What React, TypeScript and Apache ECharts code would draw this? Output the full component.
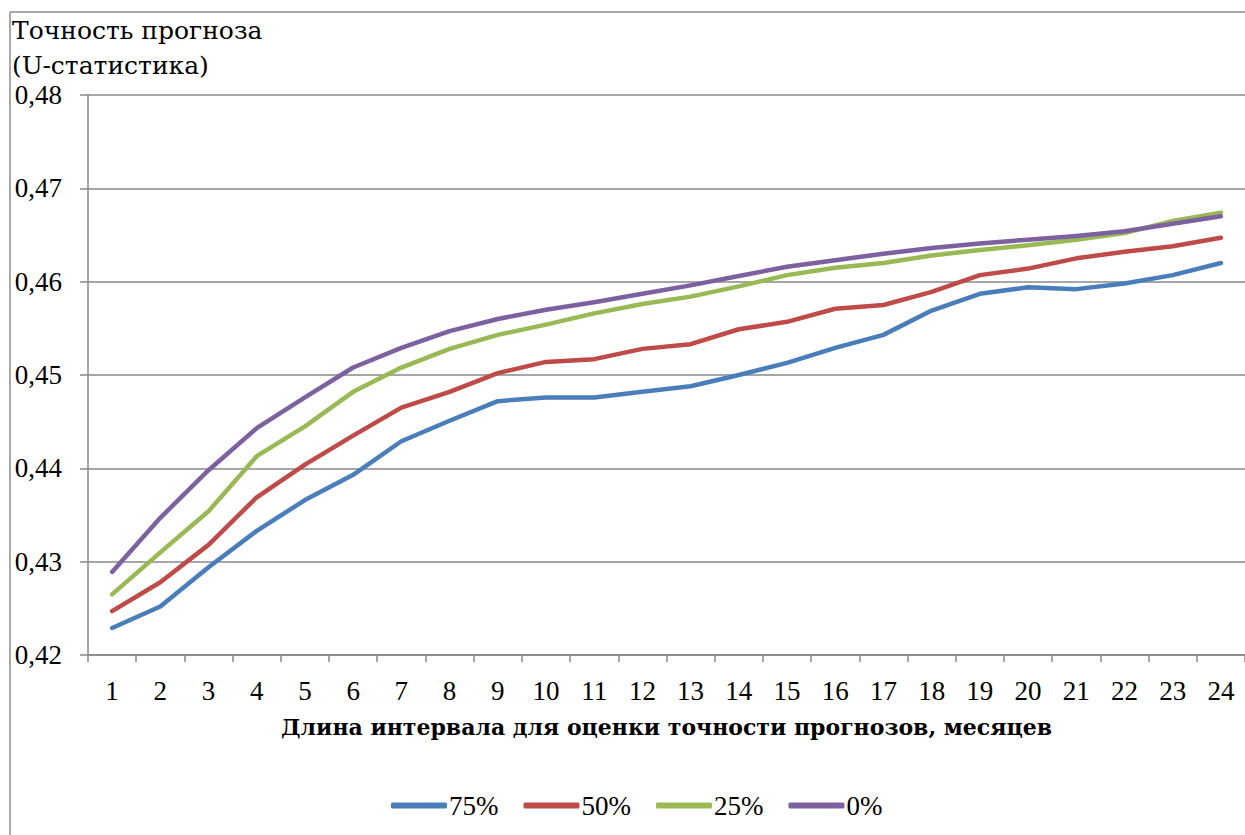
import React, { useEffect, useRef } from "react";
import * as echarts from "echarts";

const categories = ["1","2","3","4","5","6","7","8","9","10","11","12","13","14","15","16","17","18","19","20","21","22","23","24"];
const s75 = [0.4229,0.4252,0.4294,0.4333,0.4366,0.4393,0.4429,0.4451,0.4472,0.4476,0.4476,0.4482,0.4488,0.4500,0.4513,0.4529,0.4543,0.4569,0.4587,0.4594,0.4592,0.4598,0.4607,0.4620];
const s50 = [0.4247,0.4278,0.4318,0.4369,0.4404,0.4435,0.4465,0.4482,0.4502,0.4514,0.4517,0.4528,0.4533,0.4549,0.4557,0.4571,0.4575,0.4589,0.4607,0.4614,0.4625,0.4632,0.4638,0.4647];
const s25 = [0.4265,0.4310,0.4354,0.4413,0.4445,0.4482,0.4508,0.4528,0.4543,0.4554,0.4566,0.4576,0.4584,0.4595,0.4607,0.4615,0.4620,0.4628,0.4634,0.4639,0.4645,0.4652,0.4665,0.4674];
const s0 = [0.4289,0.4347,0.4398,0.4443,0.4476,0.4508,0.4529,0.4547,0.4560,0.4570,0.4578,0.4587,0.4596,0.4606,0.4616,0.4623,0.4630,0.4636,0.4641,0.4645,0.4649,0.4654,0.4662,0.4670];
const seriesNames = ["75%", "50%", "25%", "0%"];
const colors = ["#4A7EBB", "#BE4B48", "#98B954", "#7D60A0"];
const yTitle = ["Точность прогноза", "(U-статистика)"];
const xTitle = "Длина интервала для оценки точности прогнозов, месяцев";

const FONT = "'Liberation Serif', serif";
const WIDE = "'DejaVu Serif', serif";

export default function App() {
  const ref = useRef<HTMLDivElement>(null);
  useEffect(() => {
    if (!ref.current) return;
    const chart = echarts.init(ref.current, undefined, { renderer: "svg" });
    const data = [s75, s50, s25, s0];
    chart.setOption({
      animation: false,
      grid: { left: 88, top: 95, bottom: 180, right: -6, containLabel: false },
      graphic: [
        { type: "line", shape: { x1: 10, y1: 12, x2: 10, y2: 840 }, style: { stroke: "#8c8c8c", lineWidth: 1.5 } },
        { type: "line", shape: { x1: 10, y1: 12, x2: 1250, y2: 12 }, style: { stroke: "#8c8c8c", lineWidth: 1.5 } },
        { type: "text", left: 12, top: 18, style: { text: yTitle[0], font: `25px ${WIDE}`, fill: "#000" } },
        { type: "text", left: 12, top: 53, style: { text: yTitle[1], font: `25px ${WIDE}`, fill: "#000" } },
      ],
      legend: {
        left: 386,
        top: 787,
        itemWidth: 56,
        itemHeight: 6,
        itemGap: 25,
        icon: "roundRect",
        textStyle: { fontFamily: FONT, fontSize: 27, color: "#000", padding: [0, 0, 0, -3] },
        data: seriesNames,
      },
      xAxis: {
        type: "category",
        data: categories,
        boundaryGap: true,
        axisLine: { lineStyle: { color: "#888", width: 1.5 } },
        axisTick: { show: true, interval: 0, length: 7, lineStyle: { color: "#888", width: 1.5 } },
        axisLabel: { interval: 0, margin: 22, fontFamily: FONT, fontSize: 27, color: "#000" },
        name: xTitle,
        nameLocation: "middle",
        nameGap: 61,
        nameTextStyle: { fontFamily: WIDE, fontSize: 22, fontWeight: "bold", color: "#000" },
      },
      yAxis: {
        type: "value",
        min: 0.42,
        max: 0.48,
        interval: 0.01,
        axisLine: { show: true, lineStyle: { color: "#888", width: 1.5 } },
        axisTick: { show: true, length: 8, lineStyle: { color: "#888", width: 1.5 } },
        splitLine: { show: true, lineStyle: { color: "#888", width: 1.5 } },
        axisLabel: {
          margin: 26,
          fontFamily: FONT,
          fontSize: 27,
          color: "#000",
          formatter: (v: number) => v.toFixed(2).replace(".", ","),
        },
      },
      series: data.map((d, i) => ({
        name: seriesNames[i],
        type: "line",
        data: d,
        symbol: "none",
        lineStyle: { color: colors[i], width: 4.5, cap: "round", join: "round" },
        itemStyle: { color: colors[i] },
      })),
    });
    return () => chart.dispose();
  }, []);
  return <div ref={ref} style={{ position: "absolute", left: 0, top: 0, width: 1245, height: 835 }} />;
}
